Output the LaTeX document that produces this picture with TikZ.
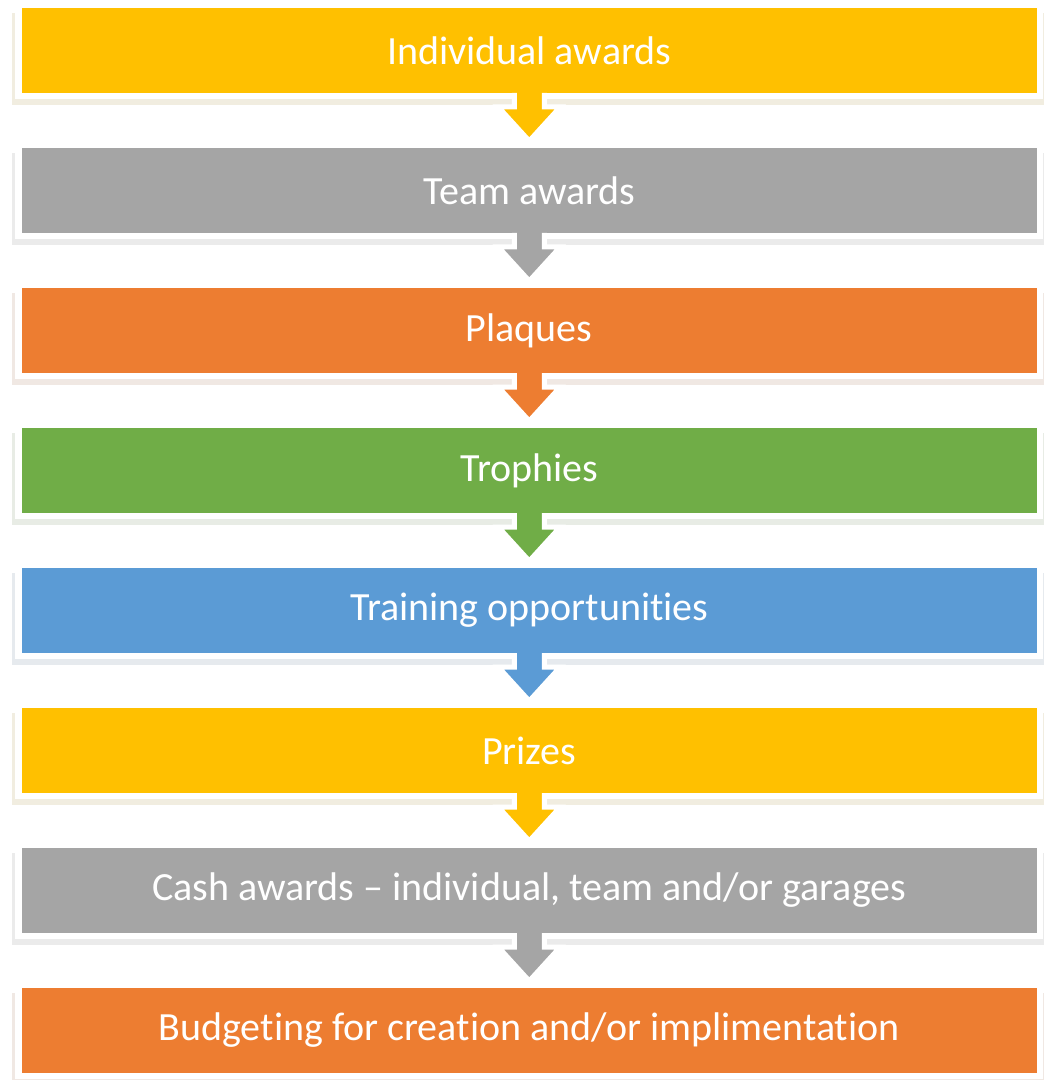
\documentclass[tikz,border=0pt]{standalone}
\usepackage{fontspec}
\newfontfamily\carlito[Ligatures=NoCommon]{Carlito}
\usetikzlibrary{positioning,calc,shadows}

\definecolor{gold}{HTML}{FFC000}
\definecolor{silver}{HTML}{A5A5A5}
\definecolor{copper}{HTML}{ED7D31}
\definecolor{leaf}{HTML}{70AD47}
\definecolor{sky}{HTML}{5B9BD5}

\tikzset{
	stage/.style={rectangle, fill=#1, draw=white, line width=4.9pt, outer sep=0pt,
		minimum width=765.75pt, minimum height=68.25pt, text=white,
		font=\carlito\fontsize{30}{35}\selectfont,
		drop shadow={fill=#1!55!black, opacity=0.12, shadow scale=1.01,
			shadow xshift=-1pt, shadow yshift=-6pt}},
	flowrim/.style={draw=white, line width=3.75pt}
}

\begin{document}
\begin{tikzpicture}[x=0.75pt, y=-0.75pt, node distance=36.75pt]

	\useasboundingbox (0,0) rectangle (1051,1080);

	\node[stage=gold] (b1) at (529.25,50.5) {Individual awards};
	\node[stage=silver, below=of b1] (b2) {Team awards};
	\node[stage=copper, below=of b2] (b3) {Plaques};
	\node[stage=leaf, below=of b3] (b4) {Trophies};
	\node[stage=sky, below=of b4] (b5) {Training opportunities};
	\node[stage=gold, below=of b5] (b6) {Prizes};
	\node[stage=silver, below=of b6] (b7) {Cash awards – individual, team and/or garages};
	\node[stage=copper, below=of b7] (b8) {Budgeting for creation and/or implimentation};

	% down arrows between the stages
	\foreach \i/\j/\c in {1/2/gold, 2/3/silver, 3/4/copper, 4/5/leaf, 5/6/sky, 6/7/gold, 7/8/silver} {
		\fill[\c] ($(b\i.south)+(-15,-13)$) -- ($(b\i.south)+(-15,11)$) -- ($(b\i.south)+(-31,11)$)
			-- ($(b\j.north)+(0,-4)$) -- ($(b\i.south)+(31,11)$) -- ($(b\i.south)+(15,11)$)
			-- ($(b\i.south)+(15,-13)$) -- cycle;
		\draw[flowrim] ($(b\i.south)+(-15,-3)$) -- ($(b\i.south)+(-15,11)$) -- ($(b\i.south)+(-31,11)$)
			-- ($(b\j.north)+(0,-4)$) -- ($(b\i.south)+(31,11)$) -- ($(b\i.south)+(15,11)$)
			-- ($(b\i.south)+(15,-3)$);
	}
\end{tikzpicture}
\end{document}
